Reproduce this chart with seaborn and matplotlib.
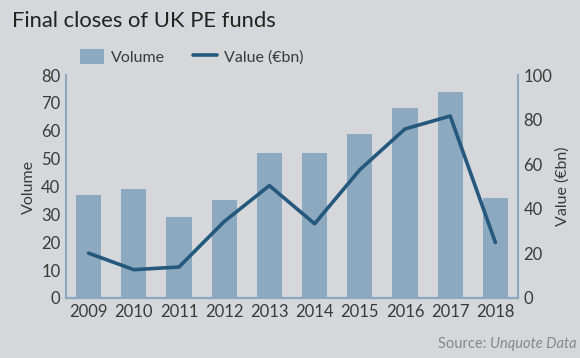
import pandas as pd
import matplotlib
matplotlib.use("Agg")
import matplotlib.pyplot as plt
import seaborn as sns
from matplotlib.patches import Patch
from matplotlib.lines import Line2D

years = ["2009", "2010", "2011", "2012", "2013", "2014", "2015", "2016", "2017", "2018"]
volume = [37, 39, 29, 35, 52, 52, 59, 68, 74, 36]
value_bn = [20.1, 12.7, 13.9, 34.3, 50.4, 33.3, 57.5, 75.8, 81.6, 24.9]

bg = "#d6d7db"
bar_col = "#8da9bf"
line_col = "#25587d"
spine_col = "#8aa8c0"
txt = "#3a3a3a"

sns.set_style("white")
plt.rcParams["font.family"] = ["Lato", "DejaVu Sans"]

df = pd.DataFrame({"year": years, "volume": volume, "value": value_bn})

fig = plt.figure(figsize=(5.8, 3.58), dpi=100, facecolor=bg)
ax = fig.add_axes([66/580, 1-298/358, (518-66)/580, (298-75)/358])
ax.set_facecolor(bg)
sns.barplot(data=df, x="year", y="volume", color=bar_col, width=0.56,
            saturation=1, edgecolor="none", linewidth=0, ax=ax)
ax2 = ax.twinx()
sns.pointplot(data=df, x="year", y="value", color=line_col, markers="",
              linewidth=2.6, errorbar=None, ax=ax2)

ax.set_xlim(-0.5, 9.5)
ax.set_ylim(0, 80)
ax2.set_ylim(0, 100)
ax.set_yticks(range(0, 81, 10))
ax2.set_yticks(range(0, 101, 20))
ax.set_xlabel("")
ax.set_ylabel("Volume", fontsize=11.5, color=txt, labelpad=4)
ax2.set_ylabel("Value (€bn)", fontsize=11.5, color=txt, labelpad=2)

for a in (ax, ax2):
    a.spines["top"].set_visible(False)
    for s in ("left", "right", "bottom"):
        a.spines[s].set_color(spine_col)
        a.spines[s].set_linewidth(1.5)
    a.tick_params(length=0, labelsize=12, colors=txt, pad=4)
ax2.spines["left"].set_visible(False)
ax.spines["right"].set_visible(False)

fig.text(12/580, 1-21/358, "Final closes of UK PE funds", fontsize=15.8,
         color="#222222", va="center", ha="left")
fig.text(577/580, 1-344/358, "Source: ", fontsize=10.5, color="#888888",
         va="center", ha="right")
src = fig.text(577/580, 1-344/358, "Unquote Data", fontsize=10.5, color="#888888",
               va="center", ha="right", style="italic")
fig.canvas.draw()
bb = src.get_window_extent()
fig.texts[-2].set_position((bb.x0/fig.bbox.width, 1-344/358))

handles = [Patch(facecolor=bar_col, edgecolor="none"),
           Line2D([0], [0], color=line_col, linewidth=2.6)]
fig.legend(handles, ["Volume", "Value (€bn)"], loc="center left",
           bbox_to_anchor=(66/580, 1-57/358), ncol=2, frameon=False,
           fontsize=11.5, handlelength=1.45, handleheight=1.1, columnspacing=1.8,
           handletextpad=0.45, labelcolor=txt)

fig.savefig("out.png", dpi=100, facecolor=bg)
